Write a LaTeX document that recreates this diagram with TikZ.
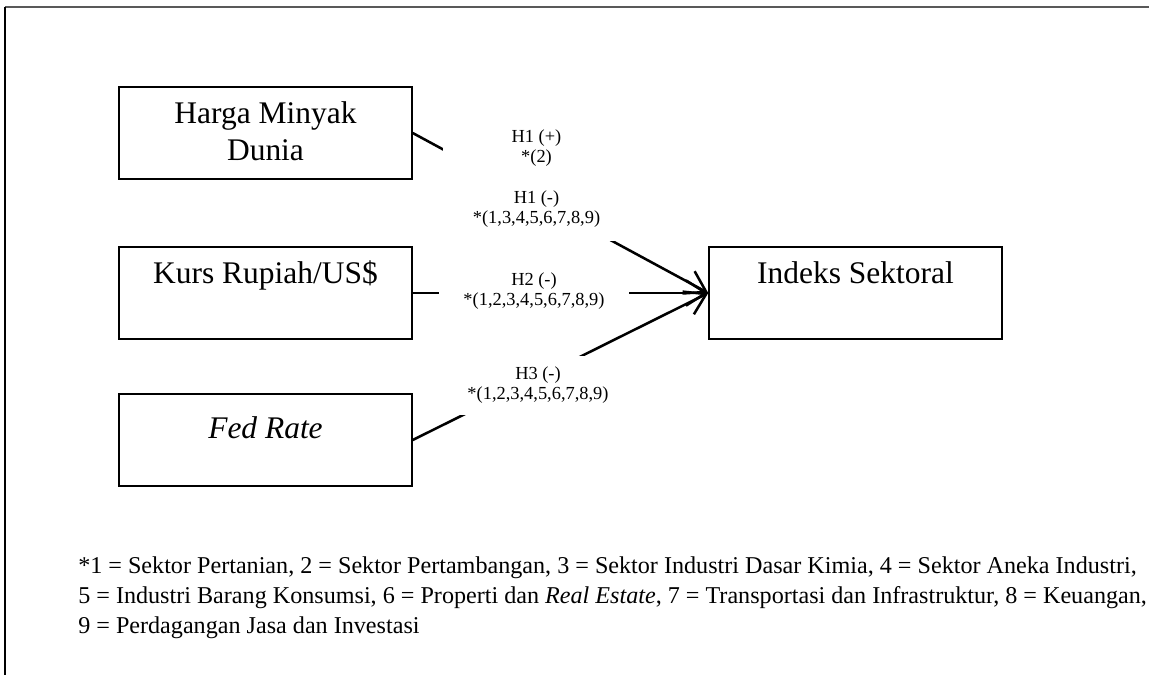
\documentclass[tikz,border=0pt]{standalone}
\usepackage{fontspec}
\setmainfont{Liberation Serif}
\usetikzlibrary{arrows.meta}

\newcommand{\boxtext}[2][27pt]{\parbox[t][69pt][t]{219.75pt}{\centering\rule{0pt}{#1}#2}}

\tikzset{
  varbox/.style={draw, line width=1.1pt, inner sep=0pt,
    font=\fontsize{23.6}{27.75}\selectfont},
  hyplabel/.style={fill=white, inner sep=0pt, align=center,
    font=\fontsize{13.8}{15}\selectfont},
  link/.style={line width=1.9pt, -{Straight Barb[length=15pt,width=19pt]}},
  notetext/.style={anchor=base west, inner sep=0pt,
    font=\fontsize{18.1}{22}\selectfont}
}

\begin{document}
\begin{tikzpicture}[x=0.75pt, y=-0.75pt]
  \useasboundingbox (0,0) rectangle (1149,675);
  % Frame edges
  \draw[line width=1.5pt, black!65] (5,7) -- (1149,7);
  \draw[line width=1pt] (5,7) -- (5,675);
  % Variable boxes
  \node[varbox] (harga) at (265.5,133) {\boxtext{Harga Minyak\\Dunia}};
  \node[varbox] (kurs) at (265.5,293) {\boxtext{Kurs Rupiah/US\$}};
  \node[varbox] (fed) at (265.5,440) {\boxtext[33pt]{\textit{Fed Rate}}};
  \node[varbox] (indeks) at (855.5,293) {\boxtext{Indeks Sektoral}};
  % Paths into the sector index
  \draw[link] (harga.east) -- (indeks.west);
  \draw[link] (kurs.east) -- (indeks.west);
  \draw[link] (fed.east) -- (indeks.west);
  % Hypothesis labels (white boxes cut the lines)
  \node[hyplabel, minimum width=140.25pt, minimum height=93pt] (h1) at (536.5,179)
    {H1 (+)\\{*}(2)\\[15.75pt]H1 (-)\\{*}(1,3,4,5,6,7,8,9)};
  \node[hyplabel, minimum width=142.5pt, minimum height=48.75pt] (h2) at (534,291.5)
    {H2 (-)\\{*}(1,2,3,4,5,6,7,8,9)};
  \node[hyplabel, minimum width=132pt, minimum height=44.25pt] (h3) at (538,385.5)
    {H3 (-)\\{*}(1,2,3,4,5,6,7,8,9)};
  % Sector key
  \node[notetext] (note1) at (78,573) {*1 = Sektor Pertanian, 2 = Sektor Pertambangan, 3 = Sektor Industri Dasar Kimia, 4 = Sektor Aneka Industri,};
  \node[notetext] (note2) at (78,603) {5 = Industri Barang Konsumsi, 6 = Properti dan \textit{Real Estate}, 7 = Transportasi dan Infrastruktur, 8 = Keuangan,};
  \node[notetext] (note3) at (78,633) {9 = Perdagangan Jasa dan Investasi};
\end{tikzpicture}
\end{document}
